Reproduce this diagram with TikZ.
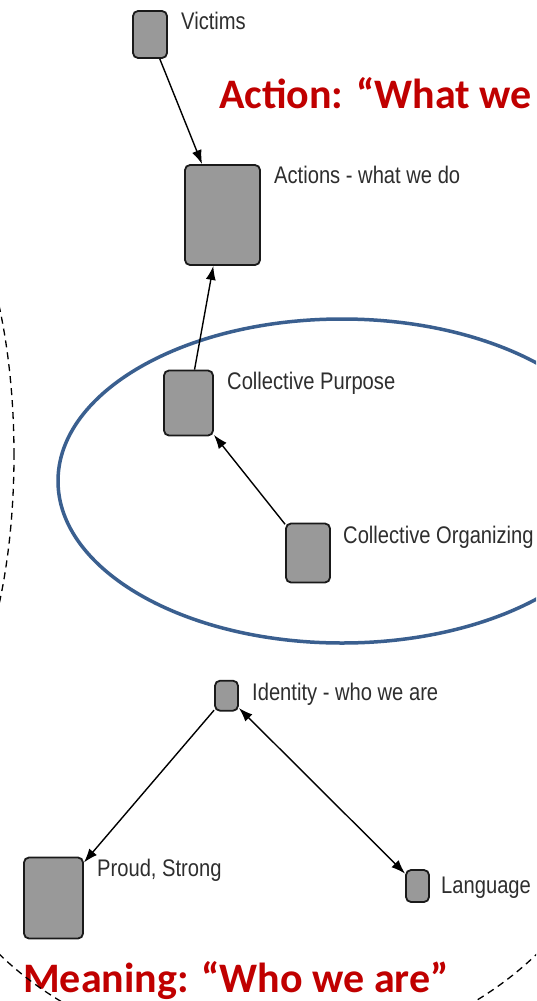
\documentclass[tikz,border=0pt]{standalone}
\usepackage{fontspec}
\setmainfont{Liberation Sans}
\newfontfamily\lblfont[FakeStretch=0.84]{Liberation Sans}
\newfontfamily\redfont{Carlito}
\usetikzlibrary{arrows.meta}
\definecolor{boxgray}{HTML}{999999}
\definecolor{boxedge}{HTML}{1A1A1A}
\definecolor{lbl}{HTML}{2E2E2E}
\definecolor{redtxt}{HTML}{C00000}
\definecolor{blueline}{HTML}{3A5F8F}
\begin{document}
\begin{tikzpicture}[x=1pt,y=-1pt,
  conc/.style={draw=boxedge, fill=boxgray, line width=1.8pt, rounded corners=5pt, inner sep=0pt},
  lab/.style={anchor=base west, inner sep=0pt, text=lbl, font=\lblfont\fontsize{24}{28}\selectfont},
  title/.style={anchor=base west, inner sep=0pt, text=redtxt, font=\redfont\bfseries\fontsize{42}{50}\selectfont},
  link/.style={line width=1.4pt, -{Latex[length=14pt,width=10pt]}},
  both/.style={line width=1.4pt, {Latex[length=14pt,width=10pt]}-{Latex[length=14pt,width=10pt]}},
  dashline/.style={line width=1.3pt, dash pattern=on 7pt off 5pt},
  ring/.style={draw=blueline, line width=3.5pt}
  ]
\useasboundingbox (0,0) rectangle (536,1001);
\clip (0,0) rectangle (536,1001);
\fill[white] (0,0) rectangle (536,1001);

% blue ellipse
\draw[ring] (342,481) ellipse [x radius=284pt, y radius=162pt];

% concept boxes
\node[conc, minimum width=34pt, minimum height=47pt] (victims) at (150,34.5) {};
\node[conc, minimum width=75pt, minimum height=100pt] (actions) at (222.5,215) {};
\node[conc, minimum width=49pt, minimum height=65pt] (purpose) at (188.5,403) {};
\node[conc, minimum width=44pt, minimum height=59pt] (organizing) at (308,553) {};
\node[conc, minimum width=23pt, minimum height=30pt] (identity) at (226.5,695.7) {};
\node[conc, minimum width=59pt, minimum height=81pt] (proud) at (53.5,898) {};
\node[conc, minimum width=23pt, minimum height=32pt] (language) at (417.5,886) {};

% labels
\node[lab] (lvictims) at (181,29) {Victims};
\node[lab] (lactions) at (274,183) {Actions - what we do};
\node[lab] (lpurpose) at (227,389) {Collective Purpose};
\node[lab] (lorganizing) at (343,543) {Collective Organizing};
\node[lab] (lidentity) at (252,700) {Identity - who we are};
\node[lab] (lproud) at (97,876) {Proud, Strong};
\node[lab] (llanguage) at (441,893) {Language};

% connectors
\draw[link] (victims) -- (actions);
\draw[link] (purpose) -- (actions);
\draw[link] (organizing) -- (purpose);
\draw[link] (identity) -- (proud);
\draw[both] (identity) -- (language);

% red titles
\node[title] (taction) at (219,108) {Action: “What we};
\node[title] (tmeaning) at (23,992) {Meaning: “Who we are”};

% dashed arcs
\draw[dashline] (-86,455) ellipse [x radius=100pt, y radius=284pt];
\draw[dashline] (268,760) ++(212:355pt and 297pt) arc[start angle=212, end angle=328, x radius=355pt, y radius=297pt];
\end{tikzpicture}
\end{document}
